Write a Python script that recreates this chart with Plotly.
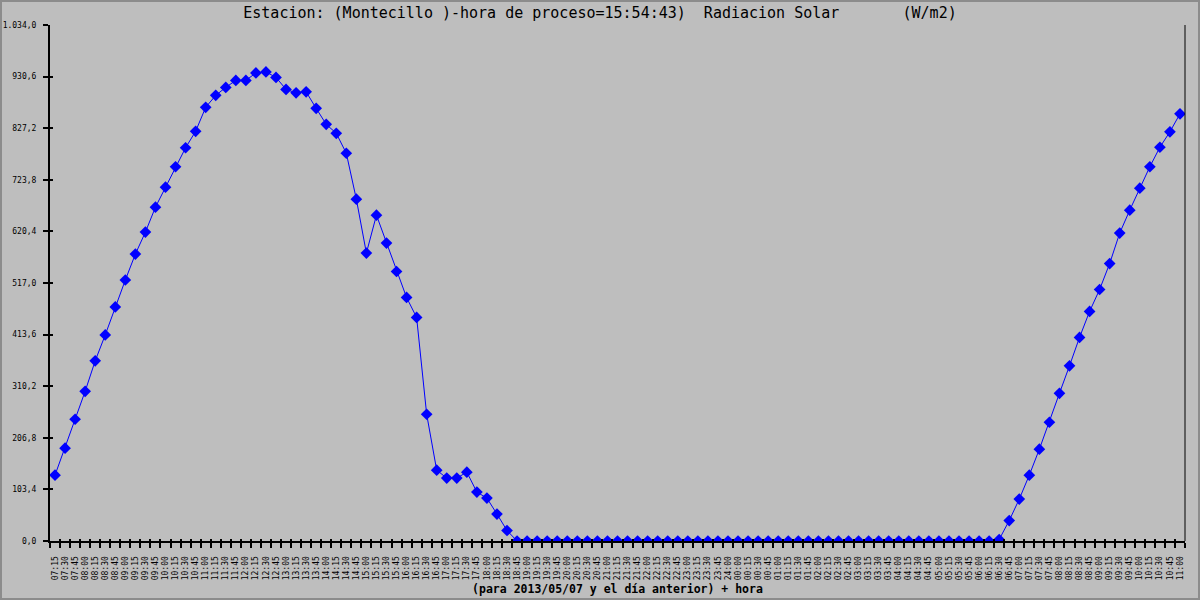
import plotly.graph_objects as go

# ---------------- data ----------------
time_labels = [
    "07:15", "07:30", "07:45",
    "08:00", "08:15", "08:30", "08:45", "09:00", "09:15", "09:30", "09:45",
    "10:00", "10:15", "10:30", "10:45", "11:00", "11:15", "11:30", "11:45",
    "12:00", "12:15", "12:30", "12:45", "13:00", "13:15", "13:30", "13:45",
    "14:00", "14:15", "14:30", "14:45", "15:00", "15:15", "15:30", "15:45",
    "16:00", "16:15", "16:30", "16:45", "17:00", "17:15", "17:30", "17:45",
    "18:00", "18:15", "18:30", "18:45", "19:00", "19:15", "19:30", "19:45",
    "20:00", "20:15", "20:30", "20:45", "21:00", "21:15", "21:30", "21:45",
    "22:00", "22:15", "22:30", "22:45", "23:00", "23:15", "23:30", "23:45",
    "24:00",
    "00:00", "00:15", "00:30", "00:45", "01:00", "01:15", "01:30", "01:45",
    "02:00", "02:15", "02:30", "02:45", "03:00", "03:15", "03:30", "03:45",
    "04:00", "04:15", "04:30", "04:45", "05:00", "05:15", "05:30", "05:45",
    "06:00", "06:15", "06:30", "06:45", "07:00", "07:15", "07:30", "07:45",
    "08:00", "08:15", "08:30", "08:45", "09:00", "09:15", "09:30", "09:45",
    "10:00", "10:15", "10:30", "10:45", "11:00",
]

radiacion = [
    132, 186, 244, 300, 361, 413, 469, 523, 575, 619, 669, 709, 750, 788,
    821, 869, 893, 909, 923, 923, 938, 940, 929, 905, 898, 900, 867, 835,
    817, 777, 685, 577, 653, 597, 540, 488, 448, 254, 142, 126, 126, 138,
    98, 86, 54, 21,
    0, 0, 0, 0, 0, 0, 0, 0, 0, 0, 0, 0, 0, 0, 0, 0,
    0, 0, 0, 0, 0, 0, 0, 0, 0, 0, 0, 0, 0, 0, 0, 0,
    0, 0, 0, 0, 0, 0, 0, 0, 0, 0, 0, 0, 0, 0, 0, 0,
    3, 41, 84, 132, 184, 238, 296, 351, 408, 460, 504, 556, 617, 663, 707,
    750, 789, 820, 856,
]

y_tick_vals = [0, 103.4, 206.8, 310.2, 413.6, 517.0, 620.4, 723.8, 827.2, 930.6, 1034.0]
y_tick_text = ["0,0", "103,4", "206,8", "310,2", "413,6", "517,0", "620,4",
               "723,8", "827,2", "930,6", "1.034,0"]

title_text = ("Estacion: (Montecillo )-hora de proceso=15:54:43)  "
              "Radiacion Solar       (W/m2)")
x_title = "(para 2013/05/07 y el día anterior) + hora"

# ---------------- figure ----------------
idx = list(range(len(time_labels)))
bounds = [i - 0.5 for i in range(len(time_labels) + 1)]
x_range = [-0.5, len(time_labels) - 0.5]
y_range = [0, 1034]

W, H = 1200, 600
ML, MR, MT, MB = 50, 15, 25, 59
PW, PH = W - ML - MR, H - MT - MB

BG = "#BEBEBE"
MONO = "DejaVu Sans Mono"

fig = go.Figure()
fig.add_trace(go.Scatter(
    x=idx, y=radiacion, mode="lines+markers",
    line=dict(color="#0000FF", width=1),
    marker=dict(symbol="diamond", size=9, color="#0000FF", line=dict(width=0)),
    showlegend=False, hoverinfo="skip",
))
# empty helper trace so the overlay axes (inner halves of the crossing ticks) get drawn
fig.add_trace(go.Scatter(x=[None], y=[None], xaxis="x2", yaxis="y2",
                         mode="lines", showlegend=False, hoverinfo="skip"))

fig.update_layout(
    width=W, height=H,
    margin=dict(l=ML, r=MR, t=MT, b=MB, pad=0, autoexpand=False),
    paper_bgcolor=BG, plot_bgcolor=BG,
    font=dict(family=MONO, color="black"),
    title=dict(text=title_text.replace(" ", "\u00a0"), x=0.5, xanchor="center",
               xref="container", yref="container", y=1 - 13 / H, yanchor="middle",
               font=dict(family=MONO, size=15, color="black")),
    xaxis=dict(
        range=x_range,
        tickmode="array", tickvals=idx, ticktext=time_labels,
        tickangle=-90, ticks="outside", ticklen=5, tickcolor="rgba(0,0,0,0)",
        ticklabelstandoff=5,
        tickfont=dict(family=MONO, size=8, color="black"),
        showgrid=False, zeroline=False, automargin=False,
        showline=True, linecolor="black", linewidth=2, mirror=False,
        minor=dict(tickmode="array", tickvals=bounds, ticks="outside",
                   ticklen=5, tickcolor="black", tickwidth=1.5, showgrid=False),
        title=dict(text=x_title, standoff=6,
                   font=dict(family=MONO, size=11.5, color="black", weight="bold")),
        fixedrange=True,
    ),
    xaxis2=dict(
        range=x_range, overlaying="x", anchor="y2", side="bottom",
        tickmode="array", tickvals=bounds, ticks="inside", ticklen=2,
        tickcolor="black", tickwidth=1.5, showticklabels=False,
        showgrid=False, zeroline=False, showline=False, automargin=False,
        fixedrange=True,
    ),
    yaxis=dict(
        range=y_range,
        tickmode="array", tickvals=y_tick_vals, ticktext=y_tick_text,
        ticks="outside", ticklen=5, tickcolor="black", tickwidth=1.5,
        tickfont=dict(family=MONO, size=8, color="black"),
        ticklabelstandoff=5,
        showgrid=False, zeroline=False, automargin=False,
        showline=True, linecolor="black", linewidth=2, mirror=False,
        fixedrange=True,
    ),
    yaxis2=dict(
        range=y_range, overlaying="y", anchor="x2", side="left",
        tickmode="array", tickvals=y_tick_vals, ticks="inside", ticklen=3,
        tickcolor="black", tickwidth=1.5, showticklabels=False,
        showgrid=False, zeroline=False, showline=False, automargin=False,
        fixedrange=True,
    ),
    shapes=[
        dict(type="line", xref="paper", yref="paper", x0=1, x1=1, y0=0, y1=1,
             line=dict(color="black", width=1), layer="above"),
        dict(type="rect", xref="paper", yref="paper",
             x0=-ML / PW, x1=(W - ML) / PW, y0=-MB / PH, y1=(H - MB) / PH,
             line=dict(color="#8C8C8C", width=4), fillcolor="rgba(0,0,0,0)",
             layer="above"),
    ],
)

fig.write_html("out.html", config={"displayModeBar": False},
               post_script="document.body.style.margin='0';")
